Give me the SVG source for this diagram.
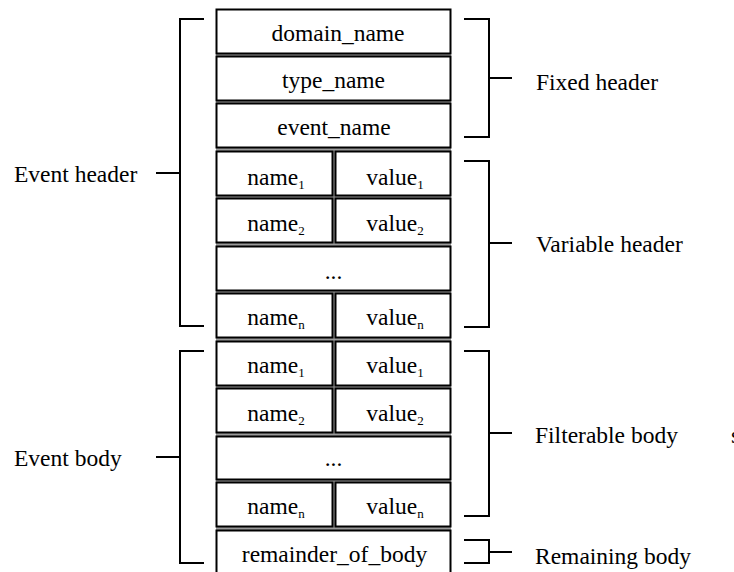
<svg xmlns="http://www.w3.org/2000/svg" width="734" height="572" viewBox="0 0 734 572">
<style>
text{font-family:"Liberation Serif","Times New Roman",serif;font-size:23.5px;fill:#000}
.c{text-anchor:middle}
.box{fill:#fff;stroke:#000;stroke-width:2}
.br{fill:none;stroke:#000;stroke-width:2}
.sub{font-size:13px}
</style>
<rect x="216" y="9" width="235" height="570" fill="#9a9a9a"/>
<g id="domain_name"><rect class="box" x="216.5" y="9.5" width="234" height="44"/><text class="c" x="338" y="41">domain_name</text></g>
<g id="type_name"><rect class="box" x="216.5" y="56.5" width="234" height="44"/><text class="c" x="333.5" y="88">type_name</text></g>
<g id="event_name"><rect class="box" x="216.5" y="103.5" width="234" height="44"/><text class="c" x="334" y="135">event_name</text></g>
<g id="h_name1"><rect class="box" x="216.5" y="151.5" width="116" height="44"/><text class="c" x="276" y="185">name<tspan class="sub" dy="4">1</tspan></text></g>
<g id="h_value1"><rect class="box" x="335.5" y="151.5" width="115" height="44"/><text class="c" x="395" y="185">value<tspan class="sub" dy="4">1</tspan></text></g>
<g id="h_name2"><rect class="box" x="216.5" y="198.5" width="116" height="44"/><text class="c" x="276" y="231">name<tspan class="sub" dy="4">2</tspan></text></g>
<g id="h_value2"><rect class="box" x="335.5" y="198.5" width="115" height="44"/><text class="c" x="395" y="231">value<tspan class="sub" dy="4">2</tspan></text></g>
<g id="h_dots"><rect class="box" x="216.5" y="246.5" width="234" height="44"/><text class="c" x="333.5" y="279">...</text></g>
<g id="h_namen"><rect class="box" x="216.5" y="293.5" width="116" height="44"/><text class="c" x="276" y="325">name<tspan class="sub" dy="4">n</tspan></text></g>
<g id="h_valuen"><rect class="box" x="335.5" y="293.5" width="115" height="44"/><text class="c" x="395" y="325">value<tspan class="sub" dy="4">n</tspan></text></g>
<g id="b_name1"><rect class="box" x="216.5" y="341.5" width="116" height="44"/><text class="c" x="276" y="373">name<tspan class="sub" dy="4">1</tspan></text></g>
<g id="b_value1"><rect class="box" x="335.5" y="341.5" width="115" height="44"/><text class="c" x="395" y="373">value<tspan class="sub" dy="4">1</tspan></text></g>
<g id="b_name2"><rect class="box" x="216.5" y="388.5" width="116" height="44"/><text class="c" x="276" y="421">name<tspan class="sub" dy="4">2</tspan></text></g>
<g id="b_value2"><rect class="box" x="335.5" y="388.5" width="115" height="44"/><text class="c" x="395" y="421">value<tspan class="sub" dy="4">2</tspan></text></g>
<g id="b_dots"><rect class="box" x="216.5" y="436.5" width="234" height="43"/><text class="c" x="333.5" y="466">...</text></g>
<g id="b_namen"><rect class="box" x="216.5" y="482.5" width="116" height="44"/><text class="c" x="276" y="514">name<tspan class="sub" dy="4">n</tspan></text></g>
<g id="b_valuen"><rect class="box" x="335.5" y="482.5" width="115" height="44"/><text class="c" x="395" y="514">value<tspan class="sub" dy="4">n</tspan></text></g>
<g id="remainder_of_body"><rect class="box" x="216.5" y="530.5" width="234" height="50"/><text class="c" x="334.5" y="562">remainder_of_body</text></g>
<g id="connectors">
<path class="br" d="M204,19H180V326H204M156,173H180"/>
<path class="br" d="M204,351H180V563H204M156,457H180"/>
<path class="br" d="M464,19H489V137H464M489,78H512"/>
<path class="br" d="M464,161H489V327H464M489,243H512"/>
<path class="br" d="M464,351H489V516H464M489,433H512"/>
<path class="br" d="M464,540H489V563H464M489,552H512"/>
</g>
<g id="labels">
<text x="14" y="182">Event header</text>
<text x="14" y="466">Event body</text>
<text x="536" y="90">Fixed header</text>
<text x="536" y="252">Variable header</text>
<text x="535" y="443">Filterable body</text>
<text x="535" y="564">Remaining body</text>
<text x="731" y="443">s</text>
</g>
</svg>
